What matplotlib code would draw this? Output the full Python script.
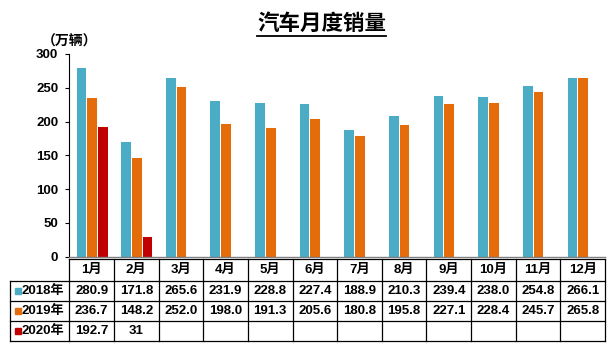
import matplotlib
matplotlib.use("Agg")
import matplotlib.pyplot as plt
from matplotlib.lines import Line2D
import numpy as np

plt.rcParams['font.family'] = ['Liberation Sans', 'Noto Sans CJK SC']
plt.rcParams['font.weight'] = 'bold'

months = ["1月", "2月", "3月", "4月", "5月", "6月",
          "7月", "8月", "9月", "10月", "11月", "12月"]
series_names = ["2018年", "2019年", "2020年"]
sales_2018 = [280.9, 171.8, 265.6, 231.9, 228.8, 227.4,
              188.9, 210.3, 239.4, 238.0, 254.8, 266.1]
sales_2019 = [236.7, 148.2, 252.0, 198.0, 191.3, 205.6,
              180.8, 195.8, 227.1, 228.4, 245.7, 265.8]
sales_2020 = [192.7, 31]
colors = ["#4BACC6", "#E46C0A", "#C00000"]
yticks = [0, 50, 100, 150, 200, 250, 300]

W, H = 610, 349
fig = plt.figure(figsize=(W / 100, H / 100), dpi=100)

ax_left, ax_right, ax_bottom, ax_top = 69.3, 605, 256.7, 54
ax = fig.add_axes([ax_left / W, 1 - ax_bottom / H,
                   (ax_right - ax_left) / W, (ax_bottom - ax_top) / H])

x = np.arange(len(months))
bw = 0.24
all_series = [sales_2018, sales_2019, sales_2020]
for i, vals in enumerate(all_series):
    n = len(vals)
    ax.bar(x[:n] + (i - 1) * bw, vals, width=bw, color=colors[i],
           edgecolor="white", linewidth=0.7)

ax.set_xlim(-0.5, len(months) - 0.5)
ax.set_ylim(0, 300)
ax.set_yticks(yticks)
ax.set_yticklabels([str(t) for t in yticks], fontsize=9.5, fontweight='bold')
ax.set_xticks([])
ax.tick_params(axis='y', direction='out', length=3, width=0.8, pad=5)
for s in ["top", "right"]:
    ax.spines[s].set_visible(False)
ax.spines["left"].set_linewidth(0.8)
ax.spines["bottom"].set_color("#808080")
ax.spines["bottom"].set_linewidth(1.0)

# data table beneath the bars (x in data units, y in axes fraction)
tr = ax.get_xaxis_transform()
axh = ax_bottom - ax_top
def yfrac(py):
    return (ax_bottom - py) / axh

row_edges = [yfrac(p) for p in (259, 280.7, 301, 321, 341)]
label_left = -0.5 + (10 - ax_left) / ((ax_right - ax_left) / len(months))
right = len(months) - 0.5
lkw = dict(color="black", linewidth=0.9, transform=tr, clip_on=False)

ax.plot([-0.5, right], [row_edges[0]] * 2, **lkw)
for ye in row_edges[1:]:
    ax.plot([label_left, right], [ye, ye], **lkw)
ax.plot([label_left, label_left], [row_edges[1], row_edges[-1]], **lkw)
for k in range(len(months) + 1):
    xe = -0.5 + k
    ax.plot([xe, xe], [row_edges[0], row_edges[-1]], **lkw)

centers = [(row_edges[r] + row_edges[r + 1]) / 2 for r in range(4)]
tfs = 9.5
for j, m in enumerate(months):
    ax.text(j, centers[0], m, ha="center", va="center", fontsize=tfs,
            fontweight="bold", transform=tr)

fmts = ["{:.1f}", "{:.1f}", "{:g}"]
px_per_unit = (ax_right - ax_left) / len(months)
sq_x = -0.5 + (18 - ax_left) / px_per_unit
lab_x = -0.5 + (22 - ax_left) / px_per_unit
for i, vals in enumerate(all_series):
    yc = centers[i + 1]
    ax.plot([sq_x], [yc], marker="s", markersize=4.6, color=colors[i],
            linestyle="none", transform=tr, clip_on=False)
    ax.text(lab_x, yc, series_names[i], ha="left", va="center", fontsize=tfs,
            fontweight="bold", transform=tr)
    for j, v in enumerate(vals):
        ax.text(j, yc, fmts[i].format(v), ha="center", va="center",
                fontsize=tfs, fontweight="bold", transform=tr)

# title with underline
title = fig.text(321.5 / W, 1 - 23.5 / H, "汽车月度销量", ha="center",
                 va="center", fontsize=15.5, fontweight="bold",
                 family=["Noto Sans CJK SC"])
fig.text(70 / W, 1 - 41.5 / H, "（万辆）", ha="center", va="center",
         fontsize=10, fontweight="bold", family=["Noto Sans CJK SC"])

fig.canvas.draw()
bb = title.get_window_extent().transformed(fig.transFigure.inverted())
uy = 1 - 36 / H
fig.add_artist(Line2D([bb.x0, bb.x1], [uy, uy], color="black",
                      linewidth=1.3, transform=fig.transFigure))

fig.savefig("out.png", dpi=100)
